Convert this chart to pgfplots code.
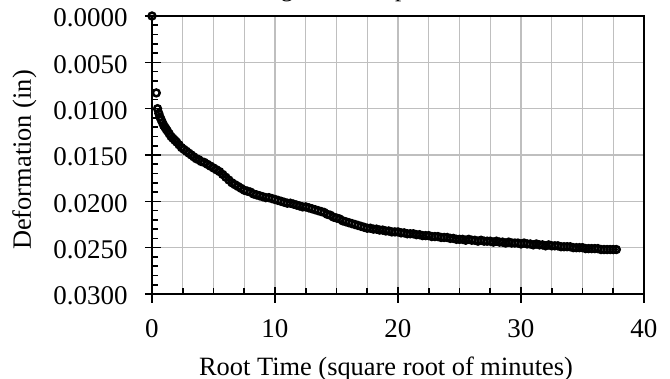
\documentclass[border=0pt]{standalone}
\usepackage{pgfplots}
\pgfplotsset{compat=1.18}
\usepackage{fontspec}
\setmainfont{Liberation Serif}
\pgfplotstableread{
x y
0 0
0.35 0.0083
0.45 0.0100
0.55 0.0105
0.65 0.0109
0.75 0.0112
0.85 0.0115
0.95 0.0118
1.05 0.0120
1.15 0.0122
1.25 0.0124
1.4 0.0127
1.55 0.0130
1.7 0.0132
1.85 0.0134
2.0 0.0136
2.2 0.0139
2.4 0.0142
2.6 0.0144
2.8 0.0146
3.0 0.0148
3.2 0.0150
3.4 0.0152
3.6 0.0154
3.8 0.0155
4.0 0.0157
4.25 0.0158
4.5 0.0160
4.75 0.0162
5.0 0.0164
5.25 0.0166
5.5 0.0168
5.75 0.0171
6.0 0.0174
6.25 0.0177
6.5 0.0180
6.75 0.0182
7.0 0.0184
7.25 0.0186
7.5 0.0188
7.75 0.0189
8.0 0.0190
8.25 0.0192
8.5 0.0193
8.75 0.0194
9.0 0.0195
9.25 0.0196
9.5 0.0196
9.75 0.0197
10.0 0.0198
10.25 0.0199
10.5 0.0200
10.75 0.0201
11.0 0.0202
11.25 0.0202
11.5 0.0203
11.75 0.0204
12.0 0.0205
12.25 0.0206
12.5 0.0206
12.75 0.0207
13.0 0.0208
13.25 0.0209
13.5 0.0210
13.75 0.0211
14.0 0.0212
14.25 0.0214
14.5 0.0215
14.75 0.0217
15.0 0.0218
15.25 0.0219
15.5 0.0221
15.75 0.0222
16.0 0.0223
16.25 0.0224
16.5 0.0225
16.75 0.0226
17.0 0.0227
17.25 0.0228
17.5 0.0229
17.75 0.0229
18.0 0.0230
18.25 0.0230
18.5 0.0231
18.75 0.0231
19.0 0.0232
19.25 0.0232
19.5 0.0233
19.75 0.0233
20.0 0.0233
20.25 0.0234
20.5 0.0234
20.75 0.0235
21.0 0.0235
21.25 0.0235
21.5 0.0236
21.75 0.0236
22.0 0.0237
22.25 0.0237
22.5 0.0237
22.75 0.0238
23.0 0.0238
23.25 0.0238
23.5 0.0239
23.75 0.0239
24.0 0.0239
24.25 0.0240
24.5 0.0240
24.75 0.0241
25.0 0.0241
25.25 0.0241
25.5 0.0242
25.75 0.0241
26.0 0.0242
26.25 0.0242
26.5 0.0243
26.75 0.0242
27.0 0.0243
27.25 0.0243
27.5 0.0243
27.75 0.0244
28.0 0.0243
28.25 0.0244
28.5 0.0244
28.75 0.0245
29.0 0.0244
29.25 0.0245
29.5 0.0245
29.75 0.0245
30.0 0.0246
30.25 0.0245
30.5 0.0246
30.75 0.0246
31.0 0.0247
31.25 0.0246
31.5 0.0247
31.75 0.0247
32.0 0.0248
32.25 0.0247
32.5 0.0248
32.75 0.0248
33.0 0.0248
33.25 0.0249
33.5 0.0249
33.75 0.0249
34.0 0.0249
34.25 0.0250
34.5 0.0250
34.75 0.0250
35.0 0.0250
35.25 0.0251
35.5 0.0251
35.75 0.0251
36.0 0.0251
36.25 0.0251
36.5 0.0252
36.75 0.0252
37.0 0.0252
37.25 0.0252
37.5 0.0252
37.75 0.0252
}\deftable
\begin{document}
\begin{tikzpicture}
\begin{axis}[
  scale only axis,
  width=246pt, height=139pt,
  xmin=0, xmax=40, ymin=0, ymax=0.03,
  y dir=reverse,
  xtick={0,10,20,30,40},
  minor xtick={2.5,5,7.5,12.5,15,17.5,22.5,25,27.5,32.5,35,37.5},
  ytick={0,0.005,0.010,0.015,0.020,0.025,0.030},
  minor y tick num=4,
  scaled y ticks=false,
  xtick pos=bottom, ytick pos=left,
  tick align=inside,
  major tick length=8pt,
  minor tick length=3pt,
  major x tick style={yshift=-4.5pt},
  major y tick style={xshift=-3.5pt},
  tick style={black, line width=0.8pt},
  axis line style={black, line width=1.3pt},
  xmajorgrids, xminorgrids, ymajorgrids,
  major grid style={draw=black!25, line width=0.6pt, xshift=0pt, yshift=0pt},
  minor grid style={draw=black!25, line width=0.6pt},
  /pgf/number format/assume math mode=true,
  yticklabel style={/pgf/number format/fixed, /pgf/number format/fixed zerofill, /pgf/number format/precision=4, font=\fontsize{13.5}{16}\selectfont, anchor=east, inner sep=0pt, xshift=-12pt, yshift=-1pt},
  xticklabel style={font=\fontsize{13.5}{16}\selectfont, anchor=north, inner sep=0pt, yshift=-12.5pt},
  clip=false,
]
\addplot[only marks, mark=o, mark size=1.7pt, mark options={black, line width=1.25pt}] table[x=x, y=y] {\deftable};
\end{axis}
\node[anchor=base, rotate=90, font=\fontsize{13.2}{16}\selectfont] at ([shift={(-60.5pt,67pt)}]current axis.south west) {Deformation (in)};
\node[anchor=base, font=\fontsize{13.2}{16}\selectfont] at ([shift={(117pt,-41pt)}]current axis.south west) {Root Time (square root of minutes)};
\node[anchor=base west, font=\fontsize{12.5}{15}\selectfont] at ([shift={(47pt,148.5pt)}]current axis.south west) {Log Time Graph};
\pgfresetboundingbox
\path[use as bounding box] ([shift={(-76pt,-42.5pt)}]current axis.south west) rectangle ([shift={(259pt,147pt)}]current axis.south west);
\end{tikzpicture}
\end{document}
